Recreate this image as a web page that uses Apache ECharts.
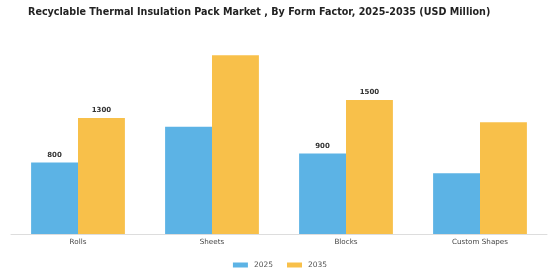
<!DOCTYPE html>
<html>
<head>
<meta charset="utf-8">
<script src="https://cdn.jsdelivr.net/npm/echarts@6/dist/echarts.min.js"></script>
<style>
html,body{margin:0;padding:0;background:#fff;}
#chart{width:560px;height:280px;}
</style>
</head>
<body>
<div id="chart"></div>
<script>
// 数据
var categories = ['Rolls', 'Sheets', 'Blocks', 'Custom Shapes'];
var values2025 = [800, 1200, 900, 680];
var values2035 = [1300, 2000, 1500, 1250];
// 只在部分柱子上显示数值
var showLabel2025 = [true, false, true, false];
var showLabel2035 = [true, false, true, false];

var chart = echarts.init(document.getElementById('chart'));

function buildData(values, flags) {
    var arr = [];
    for (var i = 0; i < values.length; i++) {
        arr.push({value: values[i], label: {show: flags[i]}});
    }
    return arr;
}

var labelStyle = {
    position: 'top',
    distance: 4,
    fontFamily: 'DejaVu Sans',
    fontSize: 7,
    fontWeight: 'bold',
    color: '#333'
};

var option = {
    animation: false,
    title: {
        text: 'Recyclable Thermal Insulation Pack Market , By Form Factor, 2025-2035 (USD Million)',
        left: 23,
        top: 2,
        textStyle: {
            fontFamily: 'DejaVu Sans',
            fontSize: 9.6,
            fontWeight: 'bold',
            color: '#222'
        }
    },
    legend: {
        bottom: 6,
        left: 'center',
        itemWidth: 15,
        itemHeight: 5,
        itemGap: 14,
        icon: 'rect',
        textStyle: {fontFamily: 'DejaVu Sans', fontSize: 7.5, color: '#555', padding: [0, 0, 0, 1]},
        data: ['2025', '2035']
    },
    grid: {left: 11, right: 13, top: 37.5, bottom: 46},
    xAxis: {
        type: 'category',
        data: categories,
        axisTick: {show: false},
        axisLine: {lineStyle: {color: '#ddd'}},
        axisLabel: {fontFamily: 'DejaVu Sans', fontSize: 7.2, color: '#444', margin: 5}
    },
    yAxis: {
        type: 'value',
        min: 0,
        max: 2200,
        show: false,
        splitLine: {show: false}
    },
    series: [
        {
            name: '2025',
            type: 'bar',
            barGap: '0%',
            barCategoryGap: '30%',
            itemStyle: {color: '#5cb3e5'},
            label: labelStyle,
            data: buildData(values2025, showLabel2025)
        },
        {
            name: '2035',
            type: 'bar',
            itemStyle: {color: '#f8c04a'},
            label: labelStyle,
            data: buildData(values2035, showLabel2035)
        }
    ]
};
chart.setOption(option);
</script>
</body>
</html>
